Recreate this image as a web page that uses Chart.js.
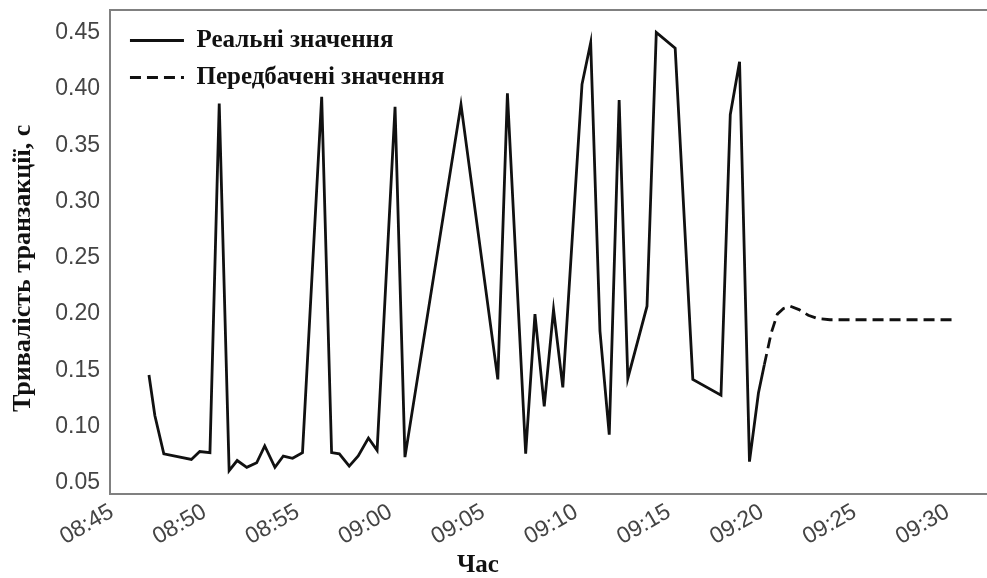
<!DOCTYPE html>
<html>
<head>
<meta charset="utf-8">
<script src="https://cdn.jsdelivr.net/npm/chart.js@4.4.0/dist/chart.umd.min.js"></script>
<style>
    html, body { margin: 0; padding: 0; background: #fff; overflow: hidden; }
    #wrap { position: relative; width: 1000px; height: 578px; }
    #xtitle {
        position: absolute; left: 478px; top: 550px; transform: translateX(-50%);
        font: bold 25px "Liberation Serif", serif; color: #111; white-space: nowrap;
    }
</style>
</head>
<body>
<div id="wrap">
    <canvas id="chart" width="1000" height="578"></canvas>
    <div id="xtitle">Час</div>
</div>
<script>
// real transaction durations (seconds)
var realTimes = [
    '08:47:00', '08:47:19', '08:47:48', '08:49:17', '08:49:44', '08:50:17', '08:50:47',
    '08:51:19', '08:51:45', '08:52:16', '08:52:48', '08:53:14', '08:53:47', '08:54:14',
    '08:54:44', '08:55:16', '08:56:18', '08:56:50', '08:57:15', '08:57:47', '08:58:16',
    '08:58:49', '08:59:17', '09:00:15', '09:00:47', '09:03:48', '09:05:47', '09:06:18',
    '09:07:17', '09:07:47', '09:08:17', '09:08:47', '09:09:17', '09:10:19', '09:10:47',
    '09:11:17', '09:11:47', '09:12:19', '09:12:47', '09:13:49', '09:14:19', '09:15:20',
    '09:16:17', '09:17:48', '09:18:18', '09:18:48', '09:19:20', '09:19:49', '09:20:08'
];
var realValues = [
    0.146, 0.110, 0.076, 0.071, 0.078, 0.077, 0.387,
    0.061, 0.070, 0.064, 0.068, 0.083, 0.064, 0.074,
    0.072, 0.077, 0.393, 0.077, 0.076, 0.065, 0.074,
    0.090, 0.079, 0.384, 0.073, 0.386, 0.142, 0.396,
    0.076, 0.200, 0.118, 0.204, 0.135, 0.404, 0.441,
    0.185, 0.093, 0.390, 0.143, 0.207, 0.450, 0.436,
    0.142, 0.128, 0.377, 0.424, 0.069, 0.130, 0.155
];

// predicted values
var forecastTimes = [
    '09:20:08', '09:20:30', '09:20:50', '09:21:10', '09:21:32',
    '09:22:00', '09:22:30', '09:23:00', '09:23:40', '09:30:20'
];
var forecastValues = [
    0.155, 0.183, 0.200, 0.205, 0.207,
    0.204, 0.199, 0.196, 0.195, 0.195
];

var xTicks = ['08:45', '08:50', '08:55', '09:00', '09:05', '09:10', '09:15', '09:20', '09:25', '09:30'];
var yTicks = [0.05, 0.10, 0.15, 0.20, 0.25, 0.30, 0.35, 0.40, 0.45];

function toMinutes(t) {
    var p = t.split(':');
    return parseInt(p[0], 10) * 60 + parseInt(p[1], 10) + (p[2] ? parseInt(p[2], 10) / 60 : 0);
}

function toLabel(m) {
    var h = Math.floor(m / 60);
    var mm = Math.round(m - h * 60);
    return (h < 10 ? '0' : '') + h + ':' + (mm < 10 ? '0' : '') + mm;
}

function toPoints(times, values) {
    return times.map(function (t, i) {
        return {x: toMinutes(t), y: values[i]};
    });
}

var xMin = 524.9;
var xMax = 572.5;

var tickFont = {family: '"Liberation Sans", Arial, sans-serif', size: 23};
var serif = '"Liberation Serif", "Times New Roman", serif';
var borderStyle = {display: true, color: '#808080', width: 2};

// nudge the legend inside the plot, like the original
var legendOffset = {
    id: 'legendOffset',
    afterLayout: function (chart) {
        var legend = chart.legend;
        legend.left += 8;
        legend.right += 8;
        legend.top += 16;
        legend.bottom += 16;
    }
};

var ctx = document.getElementById('chart').getContext('2d');
var chart = new Chart(ctx, {
    type: 'line',
    data: {
        datasets: [
            {
                label: 'Реальні значення',
                data: toPoints(realTimes, realValues),
                borderColor: '#111',
                backgroundColor: '#111',
                borderWidth: 2.8,
                pointRadius: 0,
                tension: 0,
                fill: false
            },
            {
                label: 'Передбачені значення',
                data: toPoints(forecastTimes, forecastValues),
                borderColor: '#111',
                backgroundColor: '#111',
                borderWidth: 2.8,
                borderDash: [11, 6],
                pointRadius: 0,
                tension: 0,
                fill: false
            }
        ]
    },
    plugins: [legendOffset],
    options: {
        responsive: false,
        animation: false,
        devicePixelRatio: 1,
        layout: {padding: {left: 4, top: 10, right: 6, bottom: 23}},
        plugins: {
            tooltip: {enabled: false},
            legend: {
                position: 'chartArea',
                align: 'start',
                labels: {
                    usePointStyle: true,
                    pointStyle: 'line',
                    pointStyleWidth: 54,
                    padding: 12,
                    color: '#111',
                    font: {family: serif, size: 25, weight: 'bold'},
                    generateLabels: function (chart) {
                        var items = Chart.defaults.plugins.legend.labels.generateLabels(chart);
                        items.forEach(function (item) {
                            var ds = chart.data.datasets[item.datasetIndex];
                            item.lineDash = ds.borderDash || [];
                            item.lineWidth = ds.borderWidth;
                            item.strokeStyle = ds.borderColor;
                        });
                        return items;
                    }
                }
            }
        },
        scales: {
            x: {
                type: 'linear',
                position: 'bottom',
                min: xMin,
                max: xMax,
                grid: {display: false, drawTicks: false},
                border: borderStyle,
                afterBuildTicks: function (axis) {
                    axis.ticks = xTicks.map(function (t) { return {value: toMinutes(t)}; });
                },
                afterFit: function (axis) {
                    axis.paddingLeft = 0;
                    axis.paddingRight = 0;
                },
                ticks: {
                    font: tickFont,
                    color: '#444',
                    padding: 4,
                    minRotation: 30,
                    maxRotation: 30,
                    autoSkip: false,
                    callback: function (value) { return toLabel(value); }
                }
            },
            xTop: {
                type: 'linear',
                axis: 'x',
                position: 'top',
                min: xMin,
                max: xMax,
                grid: {display: false, drawTicks: false},
                border: borderStyle,
                ticks: {display: false}
            },
            y: {
                type: 'linear',
                min: 0.04,
                max: 0.47,
                grid: {display: false, drawTicks: false},
                border: borderStyle,
                afterBuildTicks: function (axis) {
                    axis.ticks = yTicks.map(function (v) { return {value: v}; });
                },
                afterFit: function (axis) {
                    axis.paddingTop = 0;
                    axis.paddingBottom = 0;
                },
                ticks: {
                    font: tickFont,
                    color: '#444',
                    padding: 10,
                    callback: function (value) { return value.toFixed(2); }
                },
                title: {
                    display: true,
                    text: 'Тривалість транзакції, с\u00A0\u00A0\u00A0\u00A0\u00A0',
                    color: '#111',
                    font: {family: serif, size: 26, weight: 'bold'},
                    padding: {top: 4, bottom: 6}
                }
            }
        }
    }
});
</script>
</body>
</html>
